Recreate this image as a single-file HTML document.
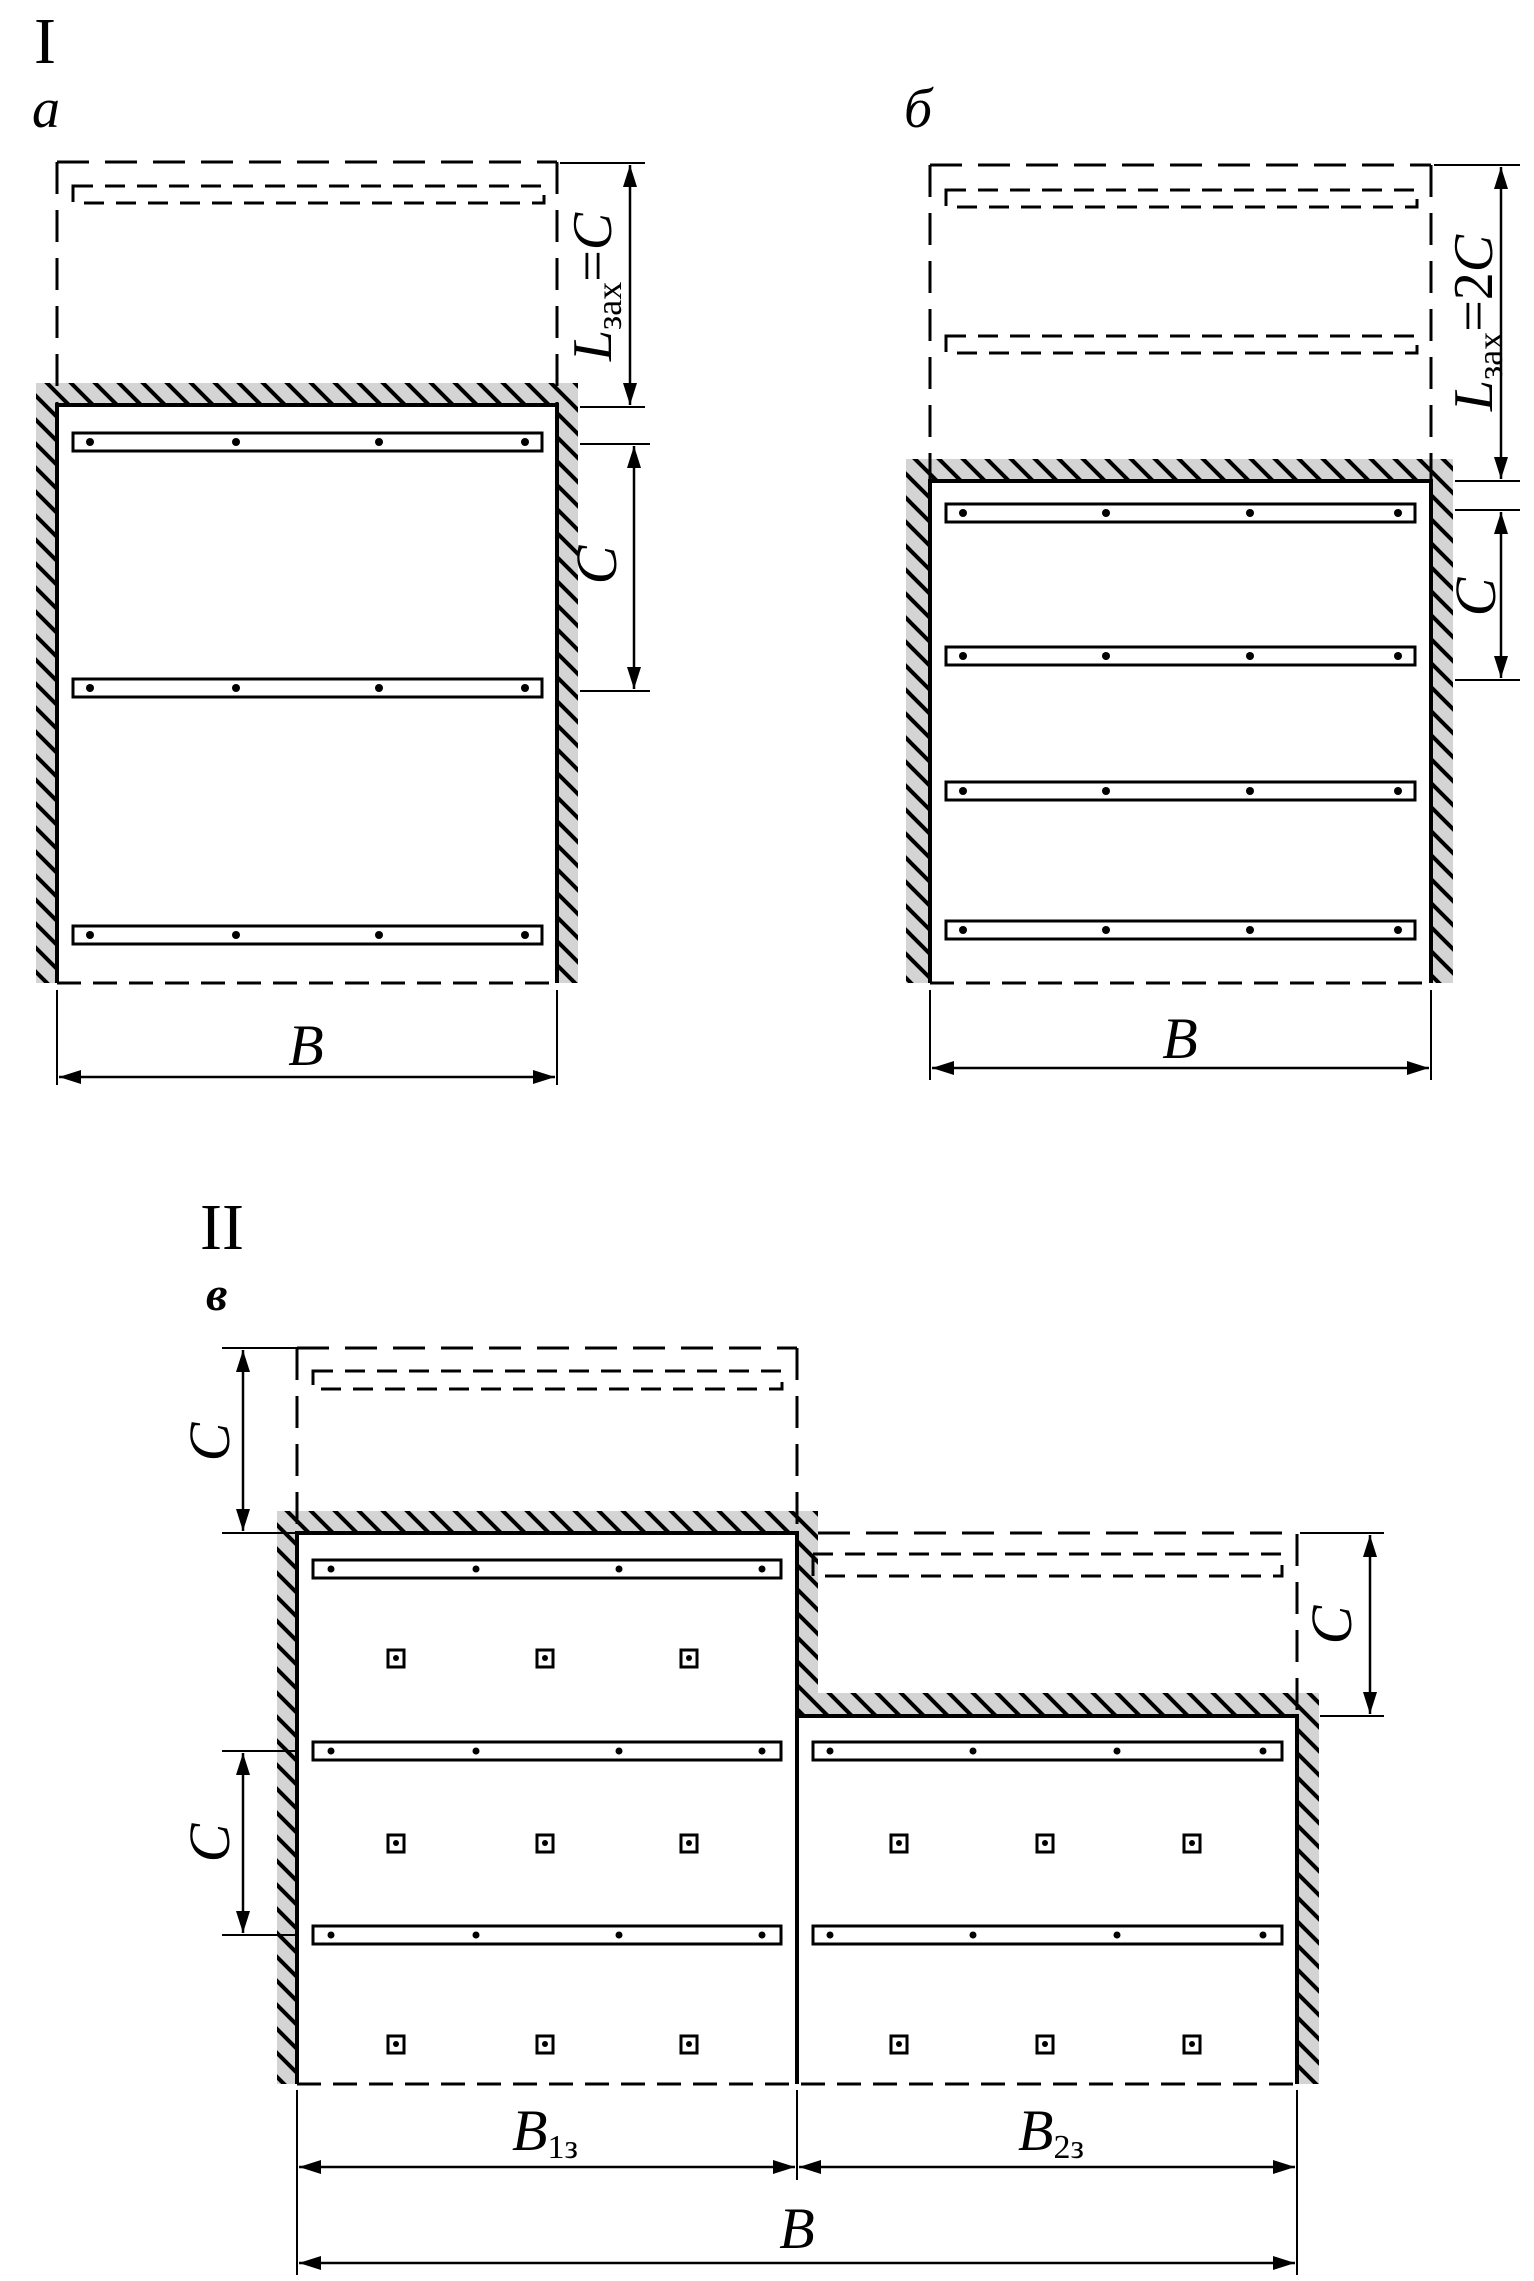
<!DOCTYPE html>
<html><head><meta charset="utf-8"><style>
html,body{margin:0;padding:0;background:#fff;}
svg{display:block;}
text{font-family:"Liberation Serif",serif;fill:#000;}
</style></head><body>
<svg width="1534" height="2281" viewBox="0 0 1534 2281" xmlns="http://www.w3.org/2000/svg">
<defs>
<pattern id="h" width="24" height="24" patternUnits="userSpaceOnUse">
<rect width="24" height="24" fill="#d4d4d4"/>
<line x1="-6" y1="-6" x2="30" y2="30" stroke="#000" stroke-width="4"/>
<line x1="-30" y1="-6" x2="6" y2="30" stroke="#000" stroke-width="4"/>
<line x1="18" y1="-6" x2="54" y2="30" stroke="#000" stroke-width="4"/>
</pattern>
<marker id="a" markerWidth="22" markerHeight="14" refX="22" refY="7" orient="auto" markerUnits="userSpaceOnUse"><path d="M0,0 L22,7 L0,14 Z" fill="#000"/></marker>
<marker id="s" markerWidth="22" markerHeight="14" refX="0" refY="7" orient="auto" markerUnits="userSpaceOnUse"><path d="M22,0 L0,7 L22,14 Z" fill="#000"/></marker>
</defs>

<g stroke="#000" fill="none" stroke-width="3">
<!-- ========== Panel a ========== -->
<rect x="36" y="383" width="542" height="22" fill="url(#h)" stroke="none"/>
<rect x="36" y="405" width="21" height="578" fill="url(#h)" stroke="none"/>
<rect x="557" y="405" width="21" height="578" fill="url(#h)" stroke="none"/>
<path d="M57,162 H557 M57,162 V405 M557,162 V405" stroke-dasharray="32,16"/>
<rect x="73" y="186" width="471" height="17" stroke-dasharray="20,12"/>
<path d="M57,983 V405 H557 V983" stroke-width="4"/>
<path d="M57,983 H557" stroke-dasharray="24,12"/>
<rect x="73" y="433" width="469" height="18"/>
<rect x="73" y="679" width="469" height="18"/>
<rect x="73" y="926" width="469" height="18"/>
<path d="M560,163 H645 M580,407 H645 M580,444 H650 M580,691 H650" stroke-width="2"/>
<line x1="630" y1="165" x2="630" y2="405" marker-start="url(#s)" marker-end="url(#a)" stroke-width="2.5"/>
<line x1="634" y1="446" x2="634" y2="689" marker-start="url(#s)" marker-end="url(#a)" stroke-width="2.5"/>
<path d="M57,990 V1085 M557,990 V1085" stroke-width="2"/>
<line x1="59" y1="1077" x2="555" y2="1077" marker-start="url(#s)" marker-end="url(#a)" stroke-width="2.5"/>

<!-- ========== Panel b ========== -->
<rect x="906" y="459" width="547" height="22" fill="url(#h)" stroke="none"/>
<rect x="906" y="481" width="24" height="502" fill="url(#h)" stroke="none"/>
<rect x="1431" y="481" width="22" height="502" fill="url(#h)" stroke="none"/>
<path d="M930,165 H1431 M930,165 V481 M1431,165 V481" stroke-dasharray="32,16"/>
<rect x="946" y="190" width="471" height="17" stroke-dasharray="20,12"/>
<rect x="946" y="336" width="471" height="17" stroke-dasharray="20,12"/>
<path d="M930,983 V481 H1431 V983" stroke-width="4"/>
<path d="M930,983 H1431" stroke-dasharray="24,12"/>
<rect x="946" y="504" width="469" height="18"/>
<rect x="946" y="647" width="469" height="18"/>
<rect x="946" y="782" width="469" height="18"/>
<rect x="946" y="921" width="469" height="18"/>
<path d="M1434,165 H1520 M1455,481 H1520 M1455,510 H1520 M1455,680 H1520" stroke-width="2"/>
<line x1="1501" y1="167" x2="1501" y2="479" marker-start="url(#s)" marker-end="url(#a)" stroke-width="2.5"/>
<line x1="1501" y1="512" x2="1501" y2="678" marker-start="url(#s)" marker-end="url(#a)" stroke-width="2.5"/>
<path d="M930,990 V1080 M1431,990 V1080" stroke-width="2"/>
<line x1="932" y1="1068" x2="1429" y2="1068" marker-start="url(#s)" marker-end="url(#a)" stroke-width="2.5"/>

<!-- ========== Panel II ========== -->
<rect x="277" y="1511" width="541" height="22" fill="url(#h)" stroke="none"/>
<rect x="277" y="1533" width="20" height="551" fill="url(#h)" stroke="none"/>
<rect x="797" y="1533" width="21" height="162" fill="url(#h)" stroke="none"/>
<rect x="797" y="1693" width="522" height="23" fill="url(#h)" stroke="none"/>
<rect x="1297" y="1716" width="22" height="368" fill="url(#h)" stroke="none"/>
<path d="M297,1348 H797 M297,1348 V1533 M797,1348 V1533" stroke-dasharray="32,16"/>
<rect x="313" y="1371" width="469" height="18" stroke-dasharray="20,12"/>
<path d="M818,1533 H1297 V1716" stroke-dasharray="32,16"/>
<rect x="813" y="1554" width="469" height="22" stroke-dasharray="20,12"/>
<path d="M297,2084 V1533 H797 V2084 M797,1716 H1297 V2084" stroke-width="4"/>
<path d="M297,2084 H1297" stroke-dasharray="24,12"/>
<rect x="313" y="1560" width="468" height="18"/>
<rect x="313" y="1742" width="468" height="18"/>
<rect x="313" y="1926" width="468" height="18"/>
<rect x="813" y="1742" width="469" height="18"/>
<rect x="813" y="1926" width="469" height="18"/>
<g stroke-width="3">
<rect x="388" y="1650" width="16" height="17"/><rect x="537" y="1650" width="16" height="17"/><rect x="681" y="1650" width="16" height="17"/>
<rect x="388" y="1835" width="16" height="17"/><rect x="537" y="1835" width="16" height="17"/><rect x="681" y="1835" width="16" height="17"/>
<rect x="388" y="2036" width="16" height="17"/><rect x="537" y="2036" width="16" height="17"/><rect x="681" y="2036" width="16" height="17"/>
<rect x="891" y="1835" width="16" height="17"/><rect x="1037" y="1835" width="16" height="17"/><rect x="1184" y="1835" width="16" height="17"/>
<rect x="891" y="2036" width="16" height="17"/><rect x="1037" y="2036" width="16" height="17"/><rect x="1184" y="2036" width="16" height="17"/>
</g>
<path d="M222,1348 H297 M222,1533 H297 M222,1751 H297 M222,1935 H297" stroke-width="2"/>
<line x1="243" y1="1350" x2="243" y2="1531" marker-start="url(#s)" marker-end="url(#a)" stroke-width="2.5"/>
<line x1="243" y1="1753" x2="243" y2="1933" marker-start="url(#s)" marker-end="url(#a)" stroke-width="2.5"/>
<path d="M1300,1533 H1384 M1320,1716 H1384" stroke-width="2"/>
<line x1="1370" y1="1535" x2="1370" y2="1714" marker-start="url(#s)" marker-end="url(#a)" stroke-width="2.5"/>
<path d="M297,2090 V2275 M797,2090 V2180 M1297,2090 V2275" stroke-width="2"/>
<line x1="299" y1="2167" x2="795" y2="2167" marker-start="url(#s)" marker-end="url(#a)" stroke-width="2.5"/>
<line x1="799" y1="2167" x2="1295" y2="2167" marker-start="url(#s)" marker-end="url(#a)" stroke-width="2.5"/>
<line x1="299" y1="2263" x2="1295" y2="2263" marker-start="url(#s)" marker-end="url(#a)" stroke-width="2.5"/>
</g>

<g fill="#000">
<circle cx="90" cy="442" r="4"/><circle cx="236" cy="442" r="4"/><circle cx="379" cy="442" r="4"/><circle cx="525" cy="442" r="4"/>
<circle cx="90" cy="688" r="4"/><circle cx="236" cy="688" r="4"/><circle cx="379" cy="688" r="4"/><circle cx="525" cy="688" r="4"/>
<circle cx="90" cy="935" r="4"/><circle cx="236" cy="935" r="4"/><circle cx="379" cy="935" r="4"/><circle cx="525" cy="935" r="4"/>
<circle cx="963" cy="513" r="4"/><circle cx="1106" cy="513" r="4"/><circle cx="1250" cy="513" r="4"/><circle cx="1398" cy="513" r="4"/>
<circle cx="963" cy="656" r="4"/><circle cx="1106" cy="656" r="4"/><circle cx="1250" cy="656" r="4"/><circle cx="1398" cy="656" r="4"/>
<circle cx="963" cy="791" r="4"/><circle cx="1106" cy="791" r="4"/><circle cx="1250" cy="791" r="4"/><circle cx="1398" cy="791" r="4"/>
<circle cx="963" cy="930" r="4"/><circle cx="1106" cy="930" r="4"/><circle cx="1250" cy="930" r="4"/><circle cx="1398" cy="930" r="4"/>
<circle cx="331" cy="1569" r="3.5"/><circle cx="476" cy="1569" r="3.5"/><circle cx="619" cy="1569" r="3.5"/><circle cx="762" cy="1569" r="3.5"/>
<circle cx="331" cy="1751" r="3.5"/><circle cx="476" cy="1751" r="3.5"/><circle cx="619" cy="1751" r="3.5"/><circle cx="762" cy="1751" r="3.5"/>
<circle cx="331" cy="1935" r="3.5"/><circle cx="476" cy="1935" r="3.5"/><circle cx="619" cy="1935" r="3.5"/><circle cx="762" cy="1935" r="3.5"/>
<circle cx="830" cy="1751" r="3.5"/><circle cx="973" cy="1751" r="3.5"/><circle cx="1117" cy="1751" r="3.5"/><circle cx="1263" cy="1751" r="3.5"/>
<circle cx="830" cy="1935" r="3.5"/><circle cx="973" cy="1935" r="3.5"/><circle cx="1117" cy="1935" r="3.5"/><circle cx="1263" cy="1935" r="3.5"/>
<circle cx="396" cy="1658" r="3"/><circle cx="545" cy="1658" r="3"/><circle cx="689" cy="1658" r="3"/>
<circle cx="396" cy="1843" r="3"/><circle cx="545" cy="1843" r="3"/><circle cx="689" cy="1843" r="3"/>
<circle cx="396" cy="2044" r="3"/><circle cx="545" cy="2044" r="3"/><circle cx="689" cy="2044" r="3"/>
<circle cx="899" cy="1843" r="3"/><circle cx="1045" cy="1843" r="3"/><circle cx="1192" cy="1843" r="3"/>
<circle cx="899" cy="2044" r="3"/><circle cx="1045" cy="2044" r="3"/><circle cx="1192" cy="2044" r="3"/>
</g>

<text x="34" y="63" font-size="66">I</text>
<text x="32" y="127" font-size="56" font-style="italic">a</text>
<text x="904" y="127" font-size="56" font-style="italic">б</text>
<text x="200" y="1249" font-size="66">II</text>
<text x="206" y="1310" font-size="48" font-style="italic" font-weight="bold">в</text>

<text x="306" y="1065" font-size="58" font-style="italic" text-anchor="middle">B</text>
<text x="1180" y="1058" font-size="58" font-style="italic" text-anchor="middle">B</text>

<text transform="translate(611,287) rotate(-90)" font-size="56" text-anchor="middle"><tspan font-style="italic">L</tspan><tspan font-size="36" dy="10">зах</tspan><tspan dy="-10">=</tspan><tspan font-style="italic">C</tspan></text>
<text transform="translate(616,565) rotate(-90)" font-size="58" font-style="italic" text-anchor="middle">C</text>
<text transform="translate(1492,323) rotate(-90)" font-size="56" text-anchor="middle"><tspan font-style="italic">L</tspan><tspan font-size="36" dy="10">зах</tspan><tspan dy="-10">=2</tspan><tspan font-style="italic">C</tspan></text>
<text transform="translate(1495,597) rotate(-90)" font-size="58" font-style="italic" text-anchor="middle">C</text>

<text transform="translate(229,1442) rotate(-90)" font-size="58" font-style="italic" text-anchor="middle">C</text>
<text transform="translate(229,1843) rotate(-90)" font-size="58" font-style="italic" text-anchor="middle">C</text>
<text transform="translate(1351,1625) rotate(-90)" font-size="58" font-style="italic" text-anchor="middle">C</text>

<text x="512" y="2150" font-size="58"><tspan font-style="italic">B</tspan><tspan font-size="34" dy="8">1з</tspan></text>
<text x="1018" y="2150" font-size="58"><tspan font-style="italic">B</tspan><tspan font-size="34" dy="8">2з</tspan></text>
<text x="797" y="2248" font-size="58" font-style="italic" text-anchor="middle">B</text>
</svg>
</body></html>
